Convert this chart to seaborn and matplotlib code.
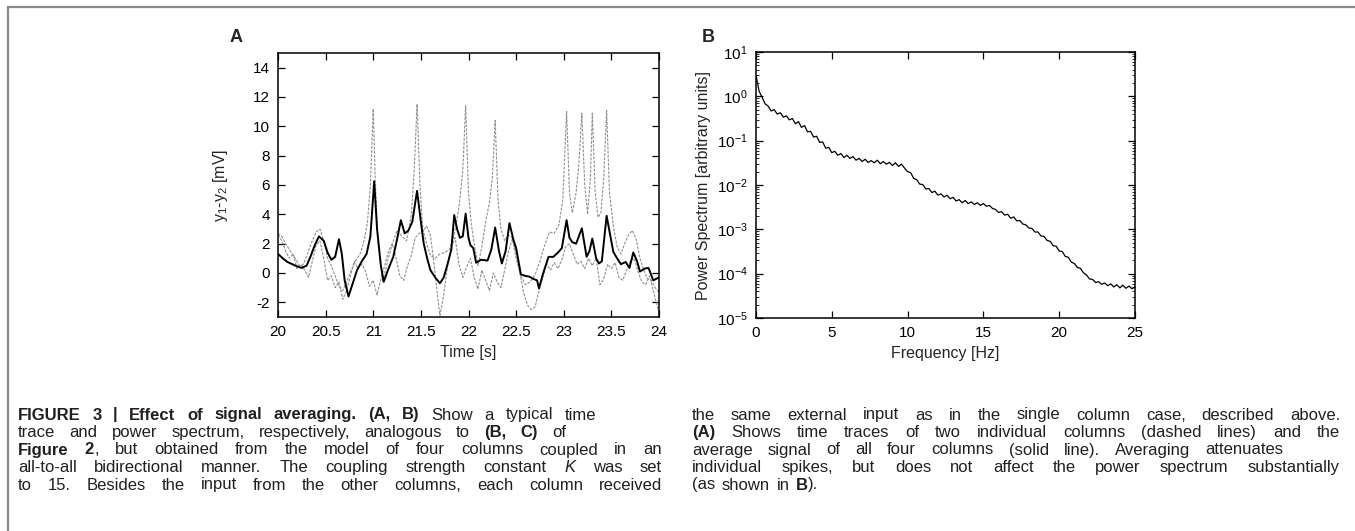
import numpy as np
import pandas as pd
import seaborn as sns
import matplotlib
matplotlib.use('Agg')
import matplotlib.pyplot as plt
from matplotlib import font_manager
from matplotlib.lines import Line2D
from matplotlib.ticker import LogLocator, NullFormatter, FixedLocator

## DATA ##
# panel A: average of the four columns (solid line)
t_avg = [20.00, 20.05, 20.10, 20.15, 20.20, 20.25, 20.30, 20.34, 20.38, 20.43, 20.48, 20.52, 20.56, 20.60,
         20.64, 20.67, 20.70, 20.74, 20.78, 20.83, 20.88, 20.93, 20.97, 21.01, 21.04, 21.08, 21.11, 21.16,
         21.21, 21.25, 21.29, 21.33, 21.37, 21.41, 21.46, 21.50, 21.53, 21.57, 21.60, 21.65, 21.70, 21.74,
         21.78, 21.82, 21.85, 21.88, 21.91, 21.94, 21.97, 22.00, 22.02, 22.05, 22.08, 22.13, 22.20, 22.24,
         22.28, 22.32, 22.35, 22.39, 22.43, 22.47, 22.50, 22.55, 22.60, 22.64, 22.68, 22.72, 22.74, 22.78,
         22.84, 22.89, 22.94, 22.98, 23.03, 23.06, 23.09, 23.13, 23.19, 23.24, 23.27, 23.30, 23.34, 23.37,
         23.40, 23.45, 23.49, 23.52, 23.56, 23.60, 23.65, 23.69, 23.73, 23.77, 23.80, 23.85, 23.89, 23.94,
         24.00]
v_avg = [1.3, 1.0, 0.75, 0.6, 0.45, 0.35, 0.5, 1.1, 1.8, 2.5, 2.2, 1.4, 0.9, 1.1,
         2.3, 1.3, -0.5, -1.6, -0.8, 0.2, 0.8, 1.3, 2.5, 6.25, 3.0, 0.5, -0.6, 0.3,
         1.1, 2.3, 3.6, 2.7, 2.9, 3.5, 5.6, 3.5, 2.0, 0.9, 0.2, -0.3, -0.7, -0.3,
         0.6, 1.6, 3.95, 3.0, 2.4, 2.5, 4.05, 2.4, 1.9, 1.7, 0.7, 0.9, 0.85, 1.6,
         3.1, 1.5, 0.65, 1.5, 3.4, 2.3, 1.7, -0.1, -0.2, -0.25, -0.4, -0.5, -1.05, -0.1,
         1.1, 1.1, 1.4, 1.7, 3.6, 2.4, 2.1, 2.0, 3.05, 1.1, 1.5, 2.35, 1.0, 0.65,
         0.8, 3.9, 2.5, 1.45, 1.0, 0.6, 0.75, 0.35, 1.4, 0.8, 0.1, 0.3, 0.35, -0.5,
         -0.3]

# panel A: single column 1 (dashed, spiking)
t_col1 = [20.00, 20.04, 20.08, 20.12, 20.16, 20.20, 20.24, 20.28, 20.32, 20.36, 20.40, 20.44, 20.48, 20.52,
          20.56, 20.60, 20.64, 20.68, 20.72, 20.77, 20.82, 20.87, 20.91, 20.94, 20.97, 21.00, 21.02, 21.05,
          21.10, 21.15, 21.20, 21.25, 21.30, 21.35, 21.40, 21.43, 21.46, 21.49, 21.52, 21.56, 21.60, 21.65,
          21.70, 21.75, 21.80, 21.85, 21.90, 21.94, 21.97, 22.00, 22.03, 22.06, 22.10, 22.14, 22.18, 22.22,
          22.25, 22.28, 22.31, 22.34, 22.38, 22.42, 22.46, 22.50, 22.55, 22.60, 22.65, 22.70, 22.75, 22.80,
          22.85, 22.90, 22.95, 22.99, 23.03, 23.06, 23.09, 23.13, 23.16, 23.19, 23.22, 23.25, 23.28, 23.30,
          23.33, 23.36, 23.39, 23.42, 23.45, 23.48, 23.52, 23.56, 23.60, 23.64, 23.68, 23.72, 23.76, 23.80,
          23.84, 23.88, 23.92, 23.96, 24.00]
v_col1 = [2.7, 2.5, 2.0, 1.6, 1.2, 0.8, 0.3, 0.8, 1.5, 2.2, 2.8, 3.0, 2.2, 1.0,
          0.5, -0.2, -0.9, -1.2, -0.6, 0.2, 0.9, 1.4, 2.4, 3.5, 6.0, 11.2, 6.5, 2.0,
          -0.6, 0.8, 2.0, 2.9, 2.5, 2.2, 4.0, 7.0, 11.5, 6.0, 3.0, 2.0, 1.2, 1.0,
          1.3, 1.4, 1.6, 2.6, 4.5, 7.0, 11.4, 5.5, 3.3, 2.0, 0.5, 1.8, 3.5, 4.8,
          6.5, 10.4, 5.0, 3.0, 2.2, 2.6, 2.4, 1.0, -0.2, -0.8, -0.6, -0.1, 0.8, 1.9,
          2.8, 2.7, 3.3, 5.0, 11.0, 5.5, 4.1, 5.5, 7.5, 10.9, 6.0, 4.0, 6.5, 10.9,
          5.5, 3.8, 4.1, 6.5, 11.1, 5.5, 3.2, 1.8, 1.3, 2.0, 2.6, 2.9, 2.3, 1.0,
          0.2, -0.4, -0.5, -1.0, -1.3]

# panel A: single column 2 (dashed, no spikes)
t_col2 = [20.00, 20.04, 20.08, 20.12, 20.16, 20.20, 20.24, 20.28, 20.32, 20.36, 20.40, 20.44, 20.48, 20.52,
          20.56, 20.60, 20.64, 20.68, 20.72, 20.76, 20.80, 20.84, 20.88, 20.92, 20.96, 21.00, 21.04, 21.08,
          21.12, 21.16, 21.20, 21.24, 21.28, 21.32, 21.36, 21.40, 21.44, 21.48, 21.52, 21.56, 21.60, 21.64,
          21.68, 21.70, 21.74, 21.78, 21.82, 21.86, 21.90, 21.94, 21.98, 22.02, 22.06, 22.10, 22.14, 22.18,
          22.22, 22.26, 22.30, 22.34, 22.38, 22.42, 22.46, 22.50, 22.54, 22.58, 22.62, 22.66, 22.70, 22.74,
          22.78, 22.82, 22.86, 22.90, 22.94, 22.98, 23.02, 23.06, 23.10, 23.14, 23.18, 23.22, 23.26, 23.30,
          23.34, 23.38, 23.42, 23.46, 23.50, 23.54, 23.58, 23.62, 23.66, 23.70, 23.74, 23.78, 23.82, 23.86,
          23.90, 23.94, 23.98, 24.00]
v_col2 = [2.6, 2.2, 1.5, 1.0, 1.3, 0.3, 0.6, 0.2, -0.3, 0.8, 1.9, 2.2, 1.0, -0.5,
          -0.2, -1.0, -0.6, -1.8, -1.2, -0.2, 0.8, 0.3, 0.6, 0.1, -0.9, -0.5, -1.5, -0.4,
          0.5, 1.5, 2.0, 1.0, -0.2, -0.5, 0.5, 1.2, 2.4, 2.7, 2.8, 3.2, 2.6, 0.5,
          -1.8, -2.9, -1.5, 0.5, 1.8, 2.4, 0.6, -0.3, 0.4, 1.0, -0.3, -1.1, 0.2, -0.5,
          -1.2, 0.0, -0.6, -1.0, 0.2, 1.5, 2.3, 1.4, 0.0, -1.4, -2.2, -2.5, -2.3, -1.2,
          -0.3, 0.6, 0.2, 0.7, 0.3, 0.9, 1.8, 2.0, 1.3, 0.6, 0.8, 0.3, 1.0, 0.5,
          1.0, -0.8, -0.4, 0.6, 0.3, 0.7, -0.3, -0.5, 0.2, 0.8, 1.0, 0.1, -0.6, -0.8,
          -0.2, -1.2, -2.2, -2.8]

# panel B: power spectrum, log10 values, 0 to 25 Hz in 0.2 Hz steps
spec_log10 = [0.48, 0.12, -0.02, -0.17, -0.22, -0.33, -0.30, -0.40, -0.37, -0.47,
              -0.44, -0.53, -0.50, -0.62, -0.57, -0.70, -0.66, -0.80, -0.79, -0.92,
              -0.90, -1.04, -1.03, -1.17, -1.15, -1.27, -1.24, -1.33, -1.29, -1.38,
              -1.33, -1.40, -1.36, -1.44, -1.40, -1.47, -1.42, -1.49, -1.45, -1.50,
              -1.44, -1.52, -1.47, -1.53, -1.49, -1.56, -1.50, -1.58, -1.53, -1.62,
              -1.70, -1.72, -1.85, -1.88, -1.98, -1.99, -2.09, -2.08, -2.17, -2.14,
              -2.23, -2.20, -2.27, -2.23, -2.31, -2.28, -2.36, -2.33, -2.40, -2.35,
              -2.42, -2.38, -2.44, -2.40, -2.46, -2.42, -2.48, -2.46, -2.53, -2.55,
              -2.62, -2.60, -2.68, -2.66, -2.75, -2.72, -2.81, -2.80, -2.88, -2.90,
              -2.97, -2.98, -3.06, -3.06, -3.15, -3.16, -3.25, -3.27, -3.37, -3.38,
              -3.49, -3.50, -3.61, -3.63, -3.74, -3.77, -3.86, -3.88, -3.98, -4.03,
              -4.12, -4.13, -4.20, -4.18, -4.24, -4.21, -4.27, -4.23, -4.30, -4.25,
              -4.32, -4.26, -4.33, -4.28, -4.34, -4.30]
freq = np.linspace(0, 25, len(spec_log10))

time_ticks = [20, 20.5, 21, 21.5, 22, 22.5, 23, 23.5, 24]
time_labels = ['20', '20.5', '21', '21.5', '22', '22.5', '23', '23.5', '24']
volt_ticks = [-2, 0, 2, 4, 6, 8, 10, 12, 14]
freq_ticks = [0, 5, 10, 15, 20, 25]

caption_left = [
    '**FIGURE 3 | Effect of signal averaging. (A, B)** Show a typical time',
    'trace and power spectrum, respectively, analogous to **(B, C)** of',
    '**Figure 2**, but obtained from the model of four columns coupled in an',
    'all-to-all bidirectional manner. The coupling strength constant _K_ was set',
    'to 15. Besides the input from the other columns, each column received',
]
caption_right = [
    'the same external input as in the single column case, described above.',
    '**(A)** Shows time traces of two individual columns (dashed lines) and the',
    'average signal of all four columns (solid line). Averaging attenuates',
    'individual spikes, but does not affect the power spectrum substantially',
    '(as shown in **B**).',
]

## STYLE ##
sns.set_style('ticks')
names = {f.name for f in font_manager.fontManager.ttflist}
cap_family = 'Liberation Sans Narrow' if 'Liberation Sans Narrow' in names else 'Liberation Sans'
plt.rcParams['font.family'] = ['Liberation Sans', 'DejaVu Sans']
plt.rcParams['mathtext.fontset'] = 'custom'
plt.rcParams['mathtext.rm'] = 'Liberation Sans'
plt.rcParams['mathtext.it'] = 'Liberation Sans:italic'
plt.rcParams['axes.linewidth'] = 1.1
plt.rcParams['axes.edgecolor'] = 'black'

W, H = 1355, 531
fig = plt.figure(figsize=(W / 100, H / 100), dpi=100)


def px_box(x0, y0, x1, y1):
    return [x0 / W, 1 - y1 / H, (x1 - x0) / W, (y1 - y0) / H]


def gnuplot_ticks(ax):
    ax.tick_params(axis='both', which='major', direction='in', length=5, width=0.9,
                   top=True, right=True, labelsize=11, colors='black', pad=6)
    ax.tick_params(axis='both', which='minor', direction='in', length=2.5, width=0.7,
                   top=True, right=True)


## PANEL A ##
ax1 = fig.add_axes(px_box(278, 53, 659, 317))
dfa = pd.DataFrame({'t': t_avg, 'v': v_avg})
dfc1 = pd.DataFrame({'t': t_col1, 'v': v_col1})
dfc2 = pd.DataFrame({'t': t_col2, 'v': v_col2})
sns.lineplot(data=dfc2, x='t', y='v', ax=ax1, color='#909090', lw=0.8, linestyle=(0, (2.5, 1.2)), estimator=None)
sns.lineplot(data=dfc1, x='t', y='v', ax=ax1, color='#909090', lw=0.8, linestyle=(0, (2.5, 1.2)), estimator=None)
sns.lineplot(data=dfa, x='t', y='v', ax=ax1, color='black', lw=1.4, estimator=None)
ax1.set_xlim(20, 24)
ax1.set_ylim(-3, 15)
ax1.set_xticks(time_ticks)
ax1.set_xticklabels(time_labels)
ax1.set_yticks(volt_ticks)
ax1.set_yticklabels([str(v) for v in volt_ticks])
ax1.set_xlabel('Time [s]', fontsize=11.5)
ax1.set_ylabel(r'y$_1$-y$_2$ [mV]', fontsize=11.5)
ax1.yaxis.set_label_coords(-0.125, 0.5)
gnuplot_ticks(ax1)

## PANEL B ##
ax2 = fig.add_axes(px_box(756, 52, 1135, 318))
dfs = pd.DataFrame({'f': freq, 'p': 10.0 ** np.array(spec_log10)})
sns.lineplot(data=dfs, x='f', y='p', ax=ax2, color='black', lw=0.9, estimator=None)
ax2.set_yscale('log')
ax2.set_xlim(0, 25)
ax2.set_ylim(1e-5, 1e1)
ax2.set_xticks(freq_ticks)
ax2.yaxis.set_major_locator(FixedLocator([1e-5, 1e-4, 1e-3, 1e-2, 1e-1, 1e0, 1e1]))
ax2.yaxis.set_minor_locator(LogLocator(base=10, subs=np.arange(2, 10), numticks=20))
ax2.yaxis.set_minor_formatter(NullFormatter())
ax2.set_xlabel('Frequency [Hz]', fontsize=11.5)
ax2.set_ylabel('Power Spectrum [arbitrary units]', fontsize=11.5)
ax2.yaxis.set_label_coords(-0.12, 0.5)
gnuplot_ticks(ax2)

fig.text(230 / W, 1 - 37 / H, 'A', fontsize=13, fontweight='bold', ha='left', va='center')
fig.text(702 / W, 1 - 37 / H, 'B', fontsize=13, fontweight='bold', ha='left', va='center')

# frame of the page
fig.add_artist(Line2D([8 / W, 1], [1 - 7 / H, 1 - 7 / H], color='#8a8a8a', lw=1.6))
fig.add_artist(Line2D([8 / W, 8 / W], [0, 1 - 7 / H], color='#8a8a8a', lw=1.6))


## CAPTION ##
def parse(line):
    words = []
    bold = False
    ital = False
    for raw in line.split(' '):
        pieces = []
        buf = ''
        i = 0
        while i < len(raw):
            if raw.startswith('**', i):
                if buf:
                    pieces.append((buf, bold, ital))
                    buf = ''
                bold = not bold
                i += 2
            elif raw[i] == '_':
                if buf:
                    pieces.append((buf, bold, ital))
                    buf = ''
                ital = not ital
                i += 1
            else:
                buf += raw[i]
                i += 1
        if buf:
            pieces.append((buf, bold, ital))
        words.append(pieces)
    return words


renderer = fig.canvas.get_renderer()
cap_fs = 12


def caption_line(line, x0, x1, y):
    # x1 = None -> natural spacing, else words spread from x0 to x1
    words = parse(line)
    placed = []
    for pieces in words:
        arts = []
        for txt, b, it in pieces:
            a = fig.text(0, 1 - (y + 4.5) / H, txt, fontsize=cap_fs, family=cap_family,
                         fontweight='bold' if b else 'normal',
                         fontstyle='italic' if it else 'normal',
                         ha='left', va='baseline', color='#231f20')
            arts.append((a, a.get_window_extent(renderer).width))
        placed.append(arts)
    widths = [sum(w for _, w in arts) for arts in placed]
    if x1 is not None:
        gap = (x1 - x0 - sum(widths)) / (len(placed) - 1)
    else:
        gap = 6.5
    x = x0
    for arts, wsum in zip(placed, widths):
        xx = x
        for a, w in arts:
            a.set_x(xx / W)
            xx += w
        x += wsum + gap


cap_y = [415, 432.5, 450, 467.5, 485]
left_end = [596, 566, 662, 662, 662]
right_end = [1340, 1340, 1283, 1340, None]
for line, y, e in zip(caption_left, cap_y, left_end):
    caption_line(line, 18, e, y)
for line, y, e in zip(caption_right, cap_y, right_end):
    caption_line(line, 692, e, y)

fig.savefig('out.png', dpi=100)
